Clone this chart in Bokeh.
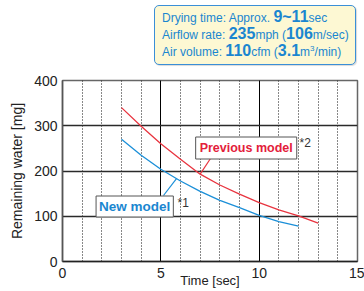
import numpy as np
from bokeh.plotting import figure
from bokeh.models import SingleIntervalTicker, FixedTicker, Label, Range1d, Div
from bokeh.layouts import column
from bokeh.embed import file_html
from bokeh.resources import INLINE

# ---- data ----
new_time = [3, 4, 5, 6, 7, 8, 9, 10, 11, 12]
new_water = [270, 235, 204, 178, 155, 135, 119, 102, 88, 78]
prev_time = [3, 4, 5, 6, 7, 8, 9, 10, 11, 12, 13]
prev_water = [340, 299, 260, 226, 193, 169, 149, 130, 114, 101, 85]
x_ticks = [0, 5, 10, 15]
y_ticks = [0, 100, 200, 300, 400]
info_lines = [
    [("Drying time: Approx. ", False), ("9~11", True), ("sec", False)],
    [("Airflow rate: ", False), ("235", True), ("mph (", False), ("106", True), ("m/sec)", False)],
    [("Air volume: ", False), ("110", True), ("cfm (", False), ("3.1", True), ("m", False),
     ("3", "sup"), ("/min)", False)],
]

FONT = "Liberation Sans"
RED = "#e8343f"
RED_TXT = "#e3203a"
BLUE = "#1b8fd8"
BLUE_TXT = "#1a86d0"

TOTAL_W = 364
DIV_H = 66
FIG_H = 291 - DIV_H
# frame in page px
FL, FR, FT, FB = 62, 357, 80, 261

p = figure(width=TOTAL_W, height=FIG_H, output_backend="svg", toolbar_location=None,
           x_range=Range1d(0, 15), y_range=Range1d(0, 400),
           min_border_left=FL, min_border_right=TOTAL_W - FR,
           min_border_top=FT - DIV_H, min_border_bottom=DIV_H + FIG_H - FB)
p.background_fill_color = "white"
p.border_fill_color = "white"
p.outline_line_color = "#666"
p.outline_line_width = 1.5

def dx(px):
    return (px - FL) / (FR - FL) * 15
def dy(py):
    return (FB - py) / (FB - FT) * 400

# grids
p.xgrid.ticker = SingleIntervalTicker(interval=5, num_minor_ticks=5)
p.xgrid.grid_line_color = "black"
p.xgrid.grid_line_width = 1
p.xgrid.minor_grid_line_color = "#111"
p.xgrid.minor_grid_line_dash = "1 2"
p.xgrid.minor_grid_line_width = 1
p.ygrid.ticker = FixedTicker(ticks=y_ticks)
p.ygrid.grid_line_color = "#2a2a2a"
p.ygrid.grid_line_width = 1.5

# axes
for ax in (p.xaxis[0], p.yaxis[0]):
    ax.major_tick_out = 0
    ax.major_tick_in = 0
    ax.minor_tick_out = 0
    ax.minor_tick_in = 0
    ax.major_label_text_font = FONT
    ax.major_label_text_font_size = "14px"
    ax.major_label_text_color = "#222"
    ax.axis_label_text_font = FONT
    ax.axis_label_text_font_style = "normal"
    ax.axis_label_text_color = "#222"
p.xaxis.axis_line_color = "#222"
p.xaxis.axis_line_width = 1.5
p.yaxis.axis_line_color = "#555"
p.yaxis.axis_line_width = 1.5
p.xaxis.ticker = FixedTicker(ticks=x_ticks)
p.yaxis.ticker = FixedTicker(ticks=y_ticks)
p.yaxis.major_label_standoff = 5
p.yaxis.axis_label = "Remaining water [mg]"
p.yaxis.axis_label_text_font_size = "14px"
p.yaxis.axis_label_standoff = 6
p.xaxis.major_label_standoff = 6
p.xaxis.axis_label = "Time [sec]"
p.xaxis.axis_label_text_font_size = "13px"
p.xaxis.axis_label_standoff = -8

# curves
p.line(prev_time, prev_water, line_color=RED, line_width=1.3)
p.line(new_time, new_water, line_color=BLUE, line_width=1.3)

# leader lines
prev_tip = (prev_time[4], prev_water[4])
p.segment(x0=[prev_tip[0]], y0=[prev_tip[1]], x1=[dx(210)], y1=[dy(158)],
          line_color=RED, line_width=1.2)
bx = dx(176)
new_tip = (bx, float(np.interp(bx, new_time, new_water)))
p.segment(x0=[new_tip[0]], y0=[new_tip[1]], x1=[dx(163)], y1=[dy(195)],
          line_color=BLUE, line_width=1.2)

# model labels
p.add_layout(Label(x=dx(245.7), y=dy(147.5), text="Previous model", text_align="center",
                   text_baseline="middle", text_font=FONT, text_font_size="12.5px",
                   text_font_style="bold", text_color=RED_TXT,
                   background_fill_color="white", border_line_color="#555",
                   border_line_width=1, padding=4))
p.add_layout(Label(x=dx(134.2), y=dy(206), text="New model", text_align="center",
                   text_baseline="middle", text_font=FONT, text_font_size="13.5px",
                   text_font_style="bold", text_color=BLUE_TXT,
                   background_fill_color="white", border_line_color="#555",
                   border_line_width=1, padding=3))
p.add_layout(Label(x=dx(299), y=dy(142), text="*2", text_align="left", text_baseline="middle",
                   text_font=FONT, text_font_size="12px", text_color="#333"))
p.add_layout(Label(x=dx(177), y=dy(202), text="*1", text_align="left", text_baseline="middle",
                   text_font=FONT, text_font_size="12px", text_color="#333"))

# info box (HTML above the plot)
def seg_html(txt, kind):
    if kind == "sup":
        return f'<span style="font-size:8px;vertical-align:5px;line-height:8px">{txt}</span>'
    if kind:
        return f'<b style="font-size:16px;line-height:12px">{txt}</b>'
    return txt

lines_html = "<br>".join("".join(seg_html(t, k) for t, k in line) for line in info_lines)
box_html = (
    '<div style="margin:0; padding:5px 0 0 154px; height:61px; box-sizing:border-box;">'
    '<div style="width:202px; height:60px; box-sizing:border-box; background:#fdf8d3; '
    'border:1.5px solid #3a8fd8; border-radius:5px; box-shadow:1px 1px 1px rgba(0,0,0,0.15); '
    f"padding:4px 0 0 7px; font-family:'{FONT}'; color:{BLUE_TXT}; font-size:12px; "
    f'line-height:17px; white-space:nowrap;">{lines_html}</div></div>'
)
div = Div(text=box_html, width=TOTAL_W, height=DIV_H, margin=0)

layout = column(div, p, spacing=0)
open("out.html", "w").write(file_html(layout, INLINE))
